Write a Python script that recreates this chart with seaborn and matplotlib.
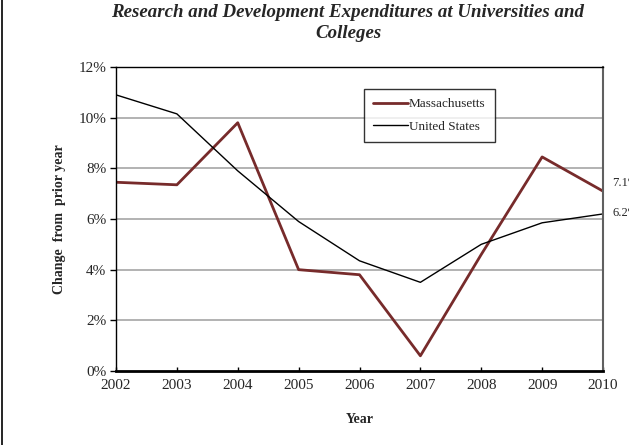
import matplotlib
matplotlib.use("Agg")
import matplotlib.pyplot as plt
import seaborn as sns
import pandas as pd
from matplotlib.lines import Line2D
from matplotlib.ticker import FuncFormatter

years = [2002, 2003, 2004, 2005, 2006, 2007, 2008, 2009, 2010]
massachusetts = [7.45, 7.35, 9.8, 4.0, 3.8, 0.6, 4.6, 8.45, 7.1]
united_states = [10.9, 10.15, 7.9, 5.9, 4.35, 3.5, 5.0, 5.85, 6.2]
series_names = ["Massachusetts", "United States"]
end_labels = ["7.1%", "6.2%"]

df = pd.DataFrame({
    "Year": years * 2,
    "Value": massachusetts + united_states,
    "Series": [series_names[0]] * len(years) + [series_names[1]] * len(years),
})

sns.set_style("white")
plt.rcParams["font.family"] = ["Liberation Serif", "DejaVu Serif"]

fig = plt.figure(figsize=(6.29, 4.45), dpi=100)
ax = fig.add_axes([116 / 629, 1 - 371 / 445, (603 - 116) / 629, (371 - 67) / 445])

sns.lineplot(data=df, x="Year", y="Value", hue="Series", style="Series",
             palette={series_names[0]: "#772b2b", series_names[1]: "#000000"},
             dashes=False, ax=ax, legend=False)
for line, lw in zip(ax.lines, [2.0, 1.0]):
    line.set_linewidth(lw)

ax.set_xlim(2002, 2010)
ax.set_ylim(0, 12)
ax.set_yticks(range(0, 13, 2))
ax.set_xticks(years)
ax.yaxis.set_major_formatter(FuncFormatter(lambda v, p: f"{int(v)}%"))
for y in range(2, 12, 2):
    ax.axhline(y, color="#a6a6a6", lw=1.2, zorder=0)

ax.tick_params(axis="y", direction="out", length=4, width=1, color="black",
               labelsize=11, pad=3, left=True)
ax.tick_params(axis="x", direction="in", length=3, width=1, color="black",
               labelsize=11, pad=6, bottom=True)
for name, sp in ax.spines.items():
    sp.set_visible(True)
ax.spines["bottom"].set_color("black")
ax.spines["bottom"].set_linewidth(2)
ax.spines["left"].set_color("black")
ax.spines["left"].set_linewidth(1)
ax.spines["top"].set_color("black")
ax.spines["top"].set_linewidth(1)
ax.spines["right"].set_color("#606060")
ax.spines["right"].set_linewidth(1.5)

ax.set_xlabel("Year", fontsize=10, fontweight="bold", labelpad=15)
ax.set_ylabel("Change  from  prior year", fontsize=10, fontweight="bold", labelpad=9)

fig.text(348 / 629, 1 - 4 / 445, "Research and Development Expenditures at Universities and\nColleges",
         ha="center", va="top", fontsize=13.6, fontweight="bold", fontstyle="italic",
         linespacing=1.3)

ax.annotate(end_labels[0], xy=(years[-1], massachusetts[-1]), xytext=(6.5, 6),
            textcoords="offset points", fontsize=9, va="center", ha="left",
            annotation_clip=False)
ax.annotate(end_labels[1], xy=(years[-1], united_states[-1]), xytext=(6.5, 1),
            textcoords="offset points", fontsize=9, va="center", ha="left",
            annotation_clip=False)

handles = [Line2D([], [], color="#772b2b", lw=2), Line2D([], [], color="black", lw=1)]
leg = ax.legend(handles, series_names, loc="upper left",
                bbox_to_anchor=((364 - 116) / 487, 1 - (89 - 67) / 304),
                borderaxespad=0,
                frameon=True, fancybox=False, edgecolor="black", fontsize=9.5,
                handlelength=2.6, handletextpad=0.1, borderpad=0.7, labelspacing=0.75)
leg.get_frame().set_linewidth(1)

fig.add_artist(Line2D([1.5 / 629, 1.5 / 629], [0, 1], color="black", lw=1.2,
                      transform=fig.transFigure))

fig.savefig("out.png", dpi=100)
